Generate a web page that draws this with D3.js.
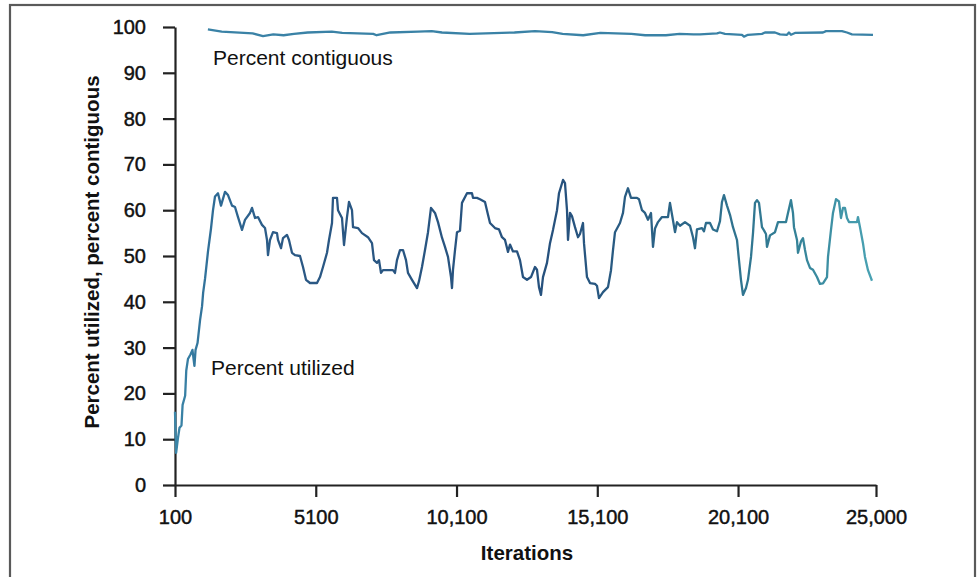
<!DOCTYPE html>
<html>
<head>
<meta charset="utf-8">
<script src="https://cdn.jsdelivr.net/npm/d3@7"></script>
<style>
  html, body { margin: 0; padding: 0; background: #fff; }
  svg { display: block; }
  text { font-family: "Liberation Sans", Arial, Helvetica, sans-serif; fill: #111; }
</style>
</head>
<body>
<svg id="chart" width="980" height="577"></svg>
<script>
// ---- data ----
const xTickValues = [100, 5100, 10100, 15100, 20100, 25000];
const xTickLabels = ["100", "5100", "10,100", "15,100", "20,100", "25,000"];
const yTickValues = [0, 10, 20, 30, 40, 50, 60, 70, 80, 90, 100];

const utilIterations = [
  100, 140, 200, 260, 330, 370, 460, 500, 560, 650, 720, 760, 790, 830, 900, 990, 1060, 1100, 1166,
  1272, 1379, 1450, 1521, 1627, 1734, 1876, 1983, 2125, 2231, 2338, 2480, 2586, 2764, 2835, 2942,
  3048, 3190, 3297, 3368, 3403, 3474, 3581, 3723, 3759, 3865, 3936, 4078, 4149, 4256, 4362, 4540,
  4647, 4753, 4895, 5144, 5250, 5357, 5499, 5570, 5677, 5712, 5854, 5890, 6032, 6103, 6209, 6280,
  6387, 6423, 6600, 6742, 6955, 7097, 7168, 7275, 7346, 7417, 7488, 7843, 7914, 7985, 8092, 8199,
  8305, 8376, 8518, 8696, 8767, 8873, 8980, 9087, 9193, 9335, 9442, 9584, 9690, 9797, 9904, 9939,
  9975, 10046, 10117, 10223, 10294, 10472, 10649, 10685, 10827, 10934, 11111, 11218, 11289, 11466,
  11608, 11715, 11822, 11928, 11999, 12106, 12248, 12354, 12461, 12603, 12745, 12887, 12958, 13029,
  13100, 13171, 13313, 13420, 13527, 13669, 13740, 13882, 13953, 14024, 14060, 14131, 14201, 14308,
  14415, 14486, 14592, 14628, 14734, 14841, 15018, 15089, 15160, 15303, 15480, 15587, 15658, 15729,
  15906, 16013, 16084, 16191, 16297, 16510, 16581, 16688, 16794, 16901, 17008, 17079, 17150, 17256,
  17398, 17611, 17682, 17789, 17860, 17931, 18038, 18215, 18393, 18500, 18570, 18641, 18819, 18890,
  18961, 19103, 19210, 19352, 19458, 19529, 19600, 19707, 19814, 19920, 20062, 20133, 20204, 20275,
  20382, 20453, 20560, 20631, 20702, 20773, 20844, 20950, 21021, 21092, 21128, 21234, 21412, 21519,
  21803, 21874, 21980, 22051, 22087, 22194, 22229, 22336, 22407, 22478, 22549, 22655, 22762, 22904,
  23010, 23117, 23259, 23295, 23401, 23472, 23579, 23685, 23756, 23827, 23898, 23969, 24040, 24324,
  24360, 24431, 24537, 24608, 24715, 24857
];
const utilized = [
  16, 7, 10, 12.5, 13, 17.5, 19.5, 25, 27.5, 28.5, 29.5, 27.5, 26, 29.5, 31, 36, 39, 42, 45,
  51, 56, 60, 63, 63.7, 61, 64, 63.3, 61, 60.7, 58.5, 55.7, 57.9, 59.4, 60.5, 58.3,
  58.5, 56.8, 56.1, 53.5, 50.2, 53.5, 55.2, 55, 53.5, 51.7, 53.9, 54.6, 53.5, 50.7, 50.2, 50,
  47.6, 44.8, 44.1, 44.1, 45.4, 47.6, 50.7, 53.5, 57.2, 62.7, 62.7, 60, 58.3, 52.4, 58.5, 61.8,
  60, 56.3, 56.1, 55, 54.1, 52.8, 49.1, 48.5, 49.1, 46.3, 46.9, 46.9, 46.3, 49.1, 51.3, 51.3,
  49.1, 46.3, 44.8, 43, 44.5, 47.6, 51.3, 55.2, 60.5, 59.4, 57.4, 54, 52, 49.8, 45.4, 43,
  47, 51.3, 55.2, 55.5, 61.6, 63.7, 63.7, 62.7, 62.7, 62.4, 61.8, 59, 57.2, 56.1,
  55.8, 54.1, 53.5, 50.9, 52.5, 51, 51, 49.1, 45.4, 44.8, 45.4, 47.6, 47, 43.2,
  41.5, 45.4, 48.5, 52.8, 55.7, 60, 63.7, 66.6, 65.9, 60, 53.5, 59.4, 58.7, 56.3,
  54.1, 54.8, 57.2, 52.8, 45.4, 44.1, 43.9, 43.5, 40.8, 42.1, 43.2, 46.9, 51.3, 55.2,
  57.2, 59.4, 62.9, 64.8, 62.7, 62.7, 62.4, 60, 59.4, 57.9, 59.4, 52, 56, 57.4,
  58.5, 58.5, 61.6, 57.8, 55.2, 57.4, 56.6, 57.4, 56.6, 54.1, 51.7, 55.8, 56.1, 55.4,
  57.2, 57.2, 55.8, 55.4, 57.6, 61.8, 63.3, 61, 59, 56.3, 53.5, 49.1, 44.8, 41.5,
  43, 44.8, 49.8, 55, 61.6, 62.2, 61.6, 56.3, 55.6, 54.8, 52, 54.5, 55.2, 57.4,
  57.4, 59.4, 62.2, 59.4, 56.3, 53.5, 50.7, 53.2, 53.9, 51.3, 49.1, 47.4, 47, 45.4,
  43.9, 44, 45.4, 49.8, 55.7, 59.4, 62.4, 61.9, 58.3, 60.5, 60.5, 58.3, 57.4, 57.4,
  58.5, 56.3, 52.8, 49.8, 46.9, 44.6
];

const contigIterations = [
  1269, 1759, 2856, 3226, 3592, 3957, 4327, 4813, 5670, 6039, 7140, 7261, 7751, 8731, 9218,
  9584, 10564, 12156, 12887, 13498, 13868, 14599, 15210, 16311, 16801, 17537, 18024, 18514,
  18748, 19352, 19458, 19636, 20240, 20311, 20453, 20950, 21056, 21412, 21590, 21838, 21909,
  21980, 22122, 23117, 23224, 23792, 23969, 24147, 24893
];
const contiguous = [
  99.5, 99.0, 98.6, 98.0, 98.4, 98.2, 98.5, 98.8, 99.0, 98.7, 98.5, 98.2, 98.8, 99.0, 99.1,
  98.8, 98.5, 98.8, 99.1, 98.9, 98.5, 98.2, 98.7, 98.5, 98.2, 98.2, 98.5, 98.4,
  98.4, 98.6, 98.8, 98.5, 98.3, 97.9, 98.3, 98.5, 98.8, 98.8, 98.4, 98.3, 98.8,
  98.3, 98.7, 98.8, 99.1, 99.1, 98.8, 98.4, 98.3
];

// ---- chart ----
const svg = d3.select("#chart");
const x = d3.scaleLinear().domain([100, 25000]).range([175, 876]);
const y = d3.scaleLinear().domain([0, 100]).range([485, 27]);

// outer frame
svg.append("rect")
  .attr("x", 10).attr("y", 5).attr("width", 965).attr("height", 600)
  .attr("fill", "none").attr("stroke", "#5a5a5a").attr("stroke-width", 2.2);

// gradient for utilized line
const defs = svg.append("defs");
const grad = defs.append("linearGradient")
  .attr("id", "utilGrad").attr("gradientUnits", "userSpaceOnUse")
  .attr("x1", 175).attr("x2", 876).attr("y1", 0).attr("y2", 0);
[[0, "#3b86a8"], [0.06, "#2e6a95"], [0.15, "#2b5985"], [0.55, "#26517d"], [0.72, "#2c6688"], [0.88, "#338096"], [1, "#4aa3b4"]]
  .forEach(([o, c]) => grad.append("stop").attr("offset", o).attr("stop-color", c));

// axes
const yAxis = d3.axisLeft(y).tickValues(yTickValues).tickSizeInner(12).tickSizeOuter(0).tickPadding(17);
const xAxis = d3.axisBottom(x).tickValues(xTickValues).tickSizeInner(12).tickSizeOuter(0).tickPadding(13)
  .tickFormat((d, i) => xTickLabels[i]);

const gy = svg.append("g").attr("transform", "translate(175,0)").call(yAxis);
const gx = svg.append("g").attr("transform", "translate(0,485)").call(xAxis);

[gx, gy].forEach(g => {
  g.select(".domain").attr("stroke", "#222").attr("stroke-width", 2.2);
  g.selectAll(".tick line").attr("stroke", "#222").attr("stroke-width", 2.2);
  g.selectAll(".tick text")
    .attr("font-family", "'Liberation Sans', Arial, sans-serif")
    .attr("font-size", 20).attr("fill", "#111")
    .attr("stroke", "#111").attr("stroke-width", 0.45);
});

// lines
const utilData = utilIterations.map((it, i) => ({ it, v: utilized[i] }));
const contigData = contigIterations.map((it, i) => ({ it, v: contiguous[i] }));
const line = d3.line().x(d => x(d.it)).y(d => y(d.v));

svg.append("path").datum(contigData)
  .attr("d", line).attr("fill", "none")
  .attr("stroke", "#3a82a6").attr("stroke-width", 2.3).attr("stroke-linejoin", "round");

svg.append("path").datum(utilData)
  .attr("d", line).attr("fill", "none")
  .attr("stroke", "url(#utilGrad)").attr("stroke-width", 2.3).attr("stroke-linejoin", "round");

// series labels
svg.append("text").attr("x", 213).attr("y", 65)
  .attr("font-size", 21).text("Percent contiguous");
svg.append("text").attr("x", 211).attr("y", 375)
  .attr("font-size", 21).text("Percent utilized");

// axis titles
svg.append("text").attr("x", 527).attr("y", 560)
  .attr("text-anchor", "middle").attr("font-size", 20.5).attr("font-weight", "bold")
  .text("Iterations");
svg.append("text")
  .attr("transform", "translate(99,252) rotate(-90)")
  .attr("text-anchor", "middle").attr("font-size", 20.5).attr("font-weight", "bold")
  .text("Percent utilized, percent contiguous");
</script>
</body>
</html>
